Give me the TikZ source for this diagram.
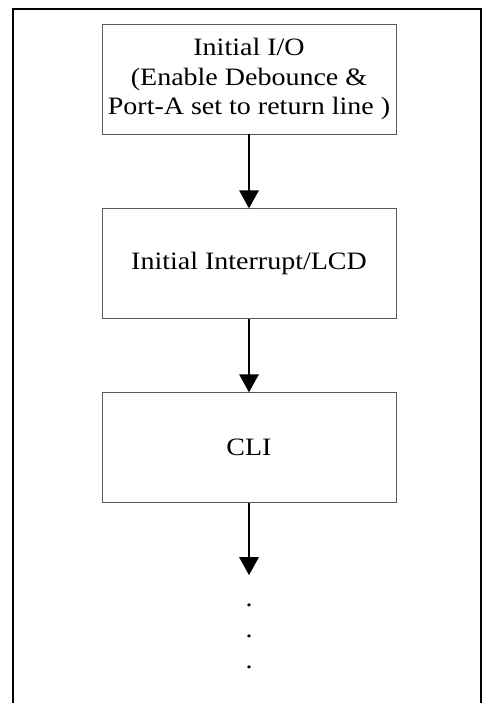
\documentclass[tikz,border=0pt]{standalone}
\usepackage{fontspec}
\setmainfont{Liberation Serif}[FakeStretch=1.12]
\usetikzlibrary{arrows.meta}
\usetikzlibrary{positioning}

\begin{document}
\begin{tikzpicture}[x=1pt,y=1pt,
	stepbox/.style={draw=black!65,line width=0.9pt,minimum width=294pt,
		minimum height=110pt,inner sep=0pt,align=center,
		font=\fontsize{25}{29.7}\selectfont},
	flow/.style={line width=2.8pt,-{Triangle[length=18pt,width=19pt]}},
	dotmark/.style={inner sep=0pt,font=\fontsize{25}{29.7}\selectfont}]
\useasboundingbox (0,0) rectangle (487,703);

% frame, open at the bottom
\draw [line width=2pt] (13,0) -- (13,694) -- (481,694) -- (481,0);

\node[stepbox] (io) at (249,624) {Initial I/O\\(Enable Debounce \&\\Port-A set to return line )};
\node[stepbox,below=74pt of io] (irq) {Initial Interrupt/LCD};
\node[stepbox,below=73pt of irq] (cli) {CLI};
\coordinate[below=72pt of cli] (next);

\draw [flow] (io) -- (irq);
\draw [flow] (irq) -- (cli);
\draw [flow] (cli) -- (next);

\foreach \i/\y in {1/98,2/67,3/36}
	\node[dotmark] (dot\i) at (249,\y) {.};
\end{tikzpicture}
\end{document}
